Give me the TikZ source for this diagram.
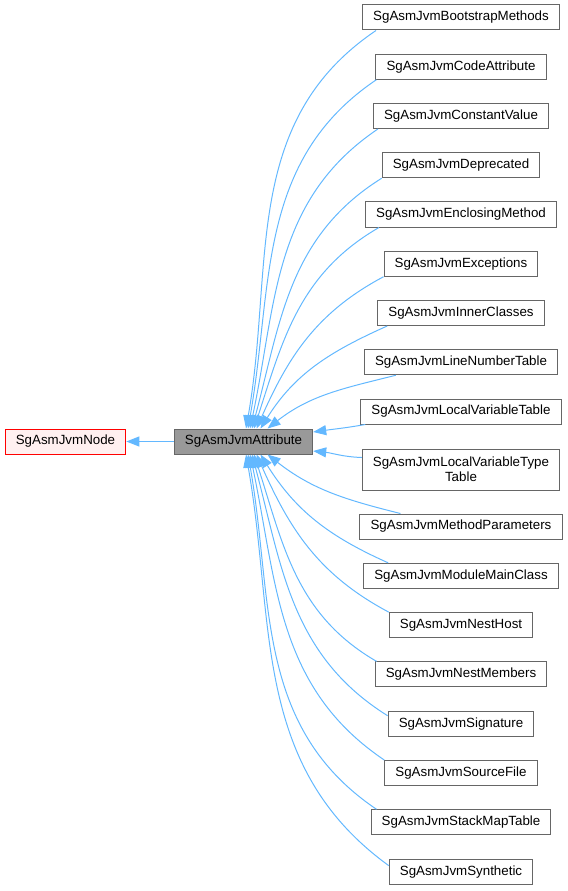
\documentclass[tikz,border=0pt]{standalone}
\usepackage{fontspec}
\setmainfont{Liberation Sans}
\usetikzlibrary{arrows.meta, calc}

\definecolor{edgeblue}{HTML}{63B8FF}
\definecolor{boxline}{HTML}{666666}
\definecolor{basefill}{HTML}{FFF0F0}
\definecolor{selfill}{HTML}{999999}

\begin{document}
\begin{tikzpicture}[
		x=0.75pt, y=-0.75pt,
		cls/.style={draw=boxline, line width=0.75pt, fill=white, align=center,
			minimum height=18.75pt, inner xsep=8pt, inner ysep=2pt,
			font=\fontsize{10pt}{11.25pt}\selectfont},
		inh/.style={draw=edgeblue, line width=0.75pt,
			-{Triangle[length=9.75pt, width=7.5pt]}}
	]
	% one unit is one pixel of the 567x891 graph, y running downwards
	\useasboundingbox (0,0) rectangle (567,891);

	% base class and the class the graph is drawn for
	\node[cls, draw=red, fill=basefill] (jvmnode) at (65.5,441.5) {SgAsmJvmNode};
	\node[cls, fill=selfill] (attr) at (243.5,441.5) {SgAsmJvmAttribute};
	\draw[inh] (attr) -- (jvmnode);

	% derived classes, one column, 49.25px apart
	\node[cls] (bootstrap) at (461,17.5)  {SgAsmJvmBootstrapMethods};
	\node[cls] (code)      at (461,66.75) {SgAsmJvmCodeAttribute};
	\node[cls] (constval)  at (461,116)   {SgAsmJvmConstantValue};
	\node[cls] (deprec)    at (461,165.25){SgAsmJvmDeprecated};
	\node[cls] (enclosing) at (461,214.5) {SgAsmJvmEnclosingMethod};
	\node[cls] (except)    at (461,263.75){SgAsmJvmExceptions};
	\node[cls] (inner)     at (461,313)   {SgAsmJvmInnerClasses};
	\node[cls] (linenum)   at (461,362.25){SgAsmJvmLineNumberTable};
	\node[cls] (localvar)  at (461,411.5) {SgAsmJvmLocalVariableTable};
	% the only two-line box
	\node[cls, minimum height=30.75pt] (localtype) at (461,469.5)
		{SgAsmJvmLocalVariableType\\Table};
	\node[cls] (methparam) at (461,526.5) {SgAsmJvmMethodParameters};
	\node[cls] (modmain)   at (461,575.8) {SgAsmJvmModuleMainClass};
	\node[cls] (nesthost)  at (461,625.1) {SgAsmJvmNestHost};
	\node[cls] (nestmem)   at (461,674.4) {SgAsmJvmNestMembers};
	\node[cls] (signature) at (461,723.7) {SgAsmJvmSignature};
	\node[cls] (srcfile)   at (461,773)   {SgAsmJvmSourceFile};
	\node[cls] (stackmap)  at (461,822.3) {SgAsmJvmStackMapTable};
	\node[cls] (synthetic) at (461,871.6) {SgAsmJvmSynthetic};

	% upper half: leave the box bottom, come into the top of attr
	\draw[inh] ($(bootstrap.south west)+(14,0)$) to[out=214, in=80] ($(attr.north)+(2.5,0)$);
	\draw[inh] ($(code.south west)+(1,0)$)       to[out=214, in=80] ($(attr.north)+(4.5,0)$);
	\draw[inh] ($(constval.south west)+(5,0)$)   to[out=214, in=78] ($(attr.north)+(6.5,0)$);
	\draw[inh] (deprec.south west)               to[out=212, in=75] ($(attr.north)+(8.5,0)$);
	\draw[inh] ($(enclosing.south west)+(14,0)$) to[out=210, in=72] ($(attr.north)+(10.5,0)$);
	\draw[inh] (except.south west)               to[out=208, in=66] ($(attr.north)+(13,0)$);
	\draw[inh] ($(inner.south west)+(10,0)$)     to[out=204, in=58] ($(attr.north)+(17,0)$);
	\draw[inh] ($(linenum.south west)+(32,0)$)   to[out=194, in=38] ($(attr.north)+(24,0)$);
	% the two level with attr run into its right side
	\draw[inh] ($(localvar.south west)+(5,0)$)   to[out=190, in=8]  ($(attr.east)+(0,-9.5)$);
	\draw[inh] ($(localtype.north west)+(0,9)$)  to[out=178, in=-6] ($(attr.east)+(0,9.5)$);

	% lower half: mirror of the upper one, into the bottom of attr
	\draw[inh] ($(methparam.north west)+(41,0)$) to[out=166, in=-38] ($(attr.south)+(24,0)$);
	\draw[inh] ($(modmain.north west)+(25,0)$)   to[out=156, in=-58] ($(attr.south)+(17,0)$);
	\draw[inh] (nesthost.north west)             to[out=152, in=-66] ($(attr.south)+(13,0)$);
	\draw[inh] ($(nestmem.north west)+(2,0)$)    to[out=150, in=-72] ($(attr.south)+(10.5,0)$);
	\draw[inh] ($(signature.north west)+(0,5)$)  to[out=148, in=-75] ($(attr.south)+(8.5,0)$);
	\draw[inh] (srcfile.north west)              to[out=146, in=-78] ($(attr.south)+(6.5,0)$);
	\draw[inh] ($(stackmap.north west)+(6,0)$)   to[out=146, in=-80] ($(attr.south)+(4.5,0)$);
	\draw[inh] ($(synthetic.north west)+(0,7)$)  to[out=144, in=-80] ($(attr.south)+(2.5,0)$);
\end{tikzpicture}
\end{document}
